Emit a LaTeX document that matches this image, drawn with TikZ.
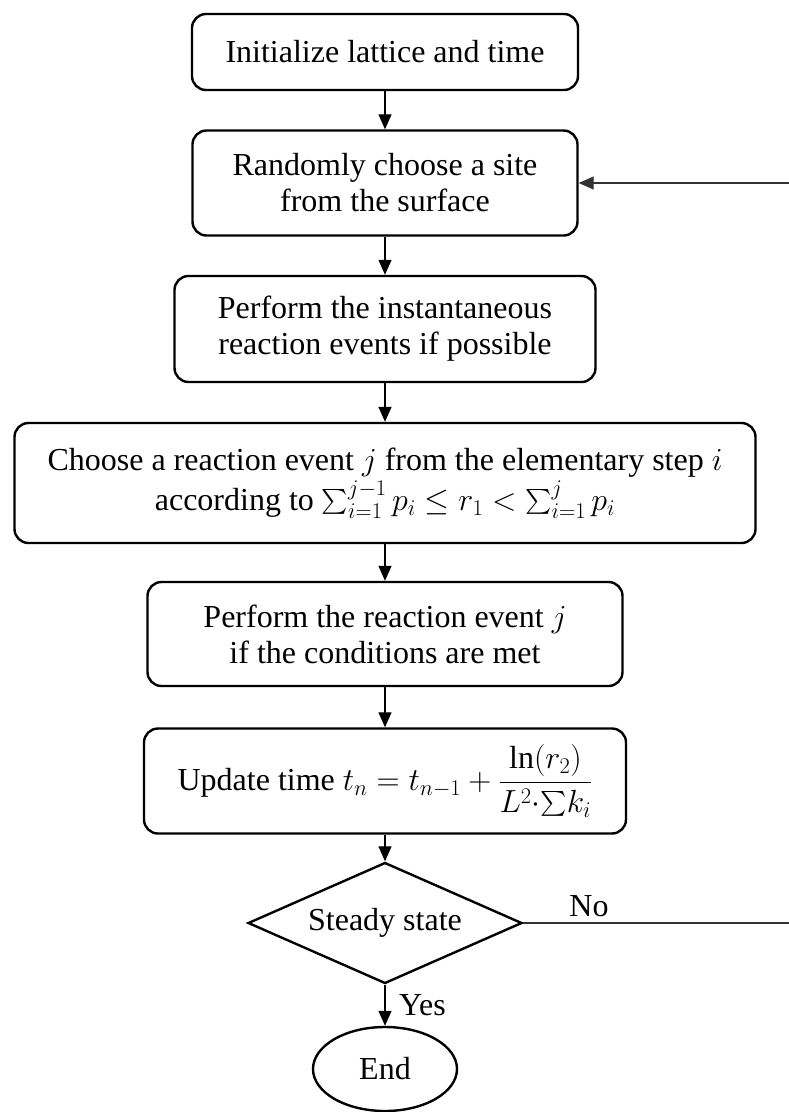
\RequirePackage{fix-cm}
\documentclass[tikz,border=0pt]{standalone}
\usepackage{amsmath}
\usepackage{fontspec}
\setmainfont{Liberation Serif}
\usetikzlibrary{arrows.meta,shapes.geometric}

\tikzset{
  stepbox/.style={draw, line width=2.4pt, rounded corners=14pt, align=center,
    inner sep=0pt, font=\fontsize{32}{36}\selectfont},
  decision/.style={draw, diamond, line width=2.4pt, inner sep=0pt, align=center,
    font=\fontsize{32}{36}\selectfont},
  terminal/.style={draw, ellipse, line width=2.4pt, inner sep=0pt,
    font=\fontsize{32}{36}\selectfont},
  flow/.style={line width=1.3pt, -{Triangle[length=15pt,width=13pt]}},
  plain/.style={line width=1.3pt, draw=black!80},
  lbl/.style={font=\fontsize{32}{36}\selectfont, inner sep=0pt}
}

\begin{document}
\begin{tikzpicture}[x=1pt, y=-1pt]
  \useasboundingbox (0,0) rectangle (789,1112);
  \coordinate (edge) at (789,0);

  % process steps
  \node[stepbox, minimum width=386pt, minimum height=76pt] (init) at (385,52)
    {Initialize lattice and time};
  \node[stepbox, minimum width=385pt, minimum height=105pt] (site) at (385,183)
    {Randomly choose a site\\from the surface};
  \node[stepbox, minimum width=421pt, minimum height=106pt] (inst) at (385,329)
    {Perform the instantaneous\\reaction events if possible};
  \node[stepbox, minimum width=741pt, minimum height=120pt] (choose) at (385,483)
    {Choose a reaction event $j$ from the elementary step $i$\\[2pt]
     according to $\sum_{i=1}^{j-1} p_i \le r_1 < \sum_{i=1}^{j} p_i$};
  \node[stepbox, minimum width=475pt, minimum height=104pt] (perform) at (385,634)
    {Perform the reaction event $j$\\if the conditions are met};
  \node[stepbox, minimum width=482pt, minimum height=105pt] (update) at (385,781)
    {Update time $t_n = t_{n-1} + \dfrac{\ln(r_2)}{L^2{\cdot}{\textstyle\sum} k_i}$};

  % decision and end
  \node[decision, shape aspect=2.26, minimum width=274pt, minimum height=121pt]
    (steady) at (385,923) {Steady state};
  \node[terminal, minimum width=144pt, minimum height=84pt] (end) at (385,1069)
    {End};

  % main flow
  \draw[flow] (init.south) -- (site.north);
  \draw[flow] (site.south) -- (inst.north);
  \draw[flow] (inst.south) -- (choose.north);
  \draw[flow] (choose.south) -- (perform.north);
  \draw[flow] (perform.south) -- (update.north);
  \draw[flow] (update.south) -- (steady.north);
  \draw[flow] (steady.south) -- (end.north);

  % loop back when not steady
  \coordinate (noexit) at (steady.east -| edge);
  \coordinate (loopin) at (site.east -| edge);
  \draw[plain] (steady.east) -- (noexit);
  \draw[flow, draw=black!80] (loopin) -- (site.east);

  % branch labels
  \node[lbl] (nolbl) at (589,906) {No};
  \node[lbl, anchor=west] (yeslbl) at (399,1005) {Yes};
\end{tikzpicture}
\end{document}
